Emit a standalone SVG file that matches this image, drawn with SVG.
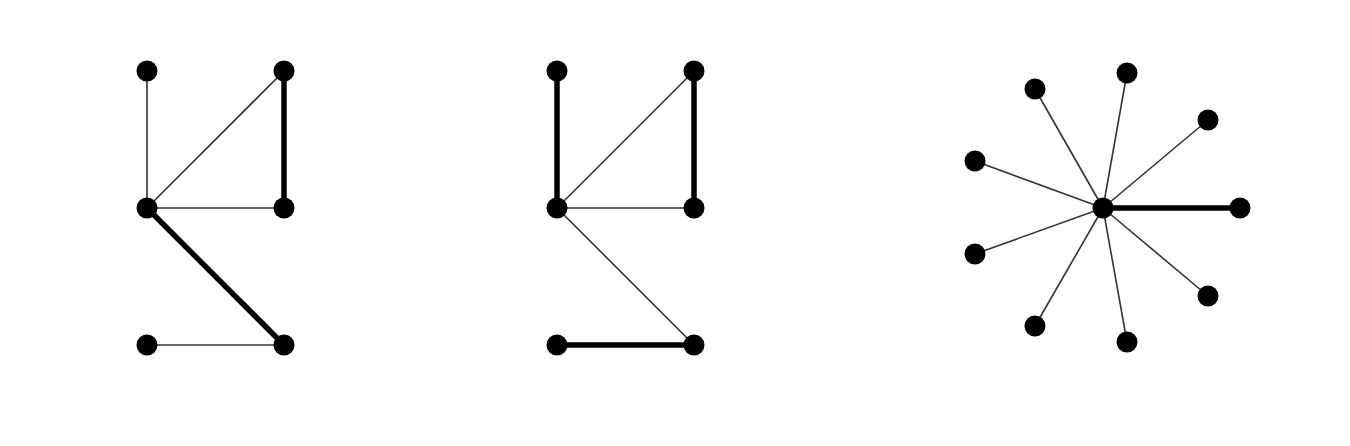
<svg xmlns="http://www.w3.org/2000/svg" width="1350" height="446" viewBox="0 0 1350 446">
<style>
.e{stroke:#333;stroke-width:1.6;fill:none}
.t{stroke:#000;stroke-width:5.5;fill:none}
.n{fill:#000}
</style>
<rect width="1350" height="446" fill="#fff"/>
<g id="connectors">
<line class="e" x1="147" y1="71" x2="147" y2="208"/>
<line class="e" x1="147" y1="208" x2="284" y2="71"/>
<line class="t" x1="284" y1="71" x2="284" y2="208"/>
<line class="e" x1="147" y1="208" x2="284" y2="208"/>
<line class="t" x1="147" y1="208" x2="284" y2="345"/>
<line class="e" x1="147" y1="345" x2="284" y2="345"/>
<line class="t" x1="557" y1="71" x2="557" y2="208"/>
<line class="e" x1="557" y1="208" x2="694" y2="71"/>
<line class="t" x1="694" y1="71" x2="694" y2="208"/>
<line class="e" x1="557" y1="208" x2="694" y2="208"/>
<line class="e" x1="557" y1="208" x2="694" y2="345"/>
<line class="t" x1="557" y1="345" x2="694" y2="345"/>
<line class="e" x1="1103" y1="208" x2="1127" y2="73"/>
<line class="e" x1="1103" y1="208" x2="1208" y2="120"/>
<line class="t" x1="1103" y1="208" x2="1240" y2="208"/>
<line class="e" x1="1103" y1="208" x2="1208" y2="296"/>
<line class="e" x1="1103" y1="208" x2="1127" y2="342"/>
<line class="e" x1="1103" y1="208" x2="1035" y2="326"/>
<line class="e" x1="1103" y1="208" x2="975" y2="254"/>
<line class="e" x1="1103" y1="208" x2="975" y2="161"/>
<line class="e" x1="1103" y1="208" x2="1035" y2="89"/>
</g>
<g id="g1n1"><circle class="n" cx="147" cy="71" r="10.5"/></g>
<g id="g1n2"><circle class="n" cx="284" cy="71" r="10.5"/></g>
<g id="g1n3"><circle class="n" cx="147" cy="208" r="10.5"/></g>
<g id="g1n4"><circle class="n" cx="284" cy="208" r="10.5"/></g>
<g id="g1n5"><circle class="n" cx="147" cy="345" r="10.5"/></g>
<g id="g1n6"><circle class="n" cx="284" cy="345" r="10.5"/></g>
<g id="g2n1"><circle class="n" cx="557" cy="71" r="10.5"/></g>
<g id="g2n2"><circle class="n" cx="694" cy="71" r="10.5"/></g>
<g id="g2n3"><circle class="n" cx="557" cy="208" r="10.5"/></g>
<g id="g2n4"><circle class="n" cx="694" cy="208" r="10.5"/></g>
<g id="g2n5"><circle class="n" cx="557" cy="345" r="10.5"/></g>
<g id="g2n6"><circle class="n" cx="694" cy="345" r="10.5"/></g>
<g id="g3c"><circle class="n" cx="1103" cy="208" r="10.5"/></g>
<g id="g3l1"><circle class="n" cx="1127" cy="73" r="10.5"/></g>
<g id="g3l2"><circle class="n" cx="1208" cy="120" r="10.5"/></g>
<g id="g3l3"><circle class="n" cx="1240" cy="208" r="10.5"/></g>
<g id="g3l4"><circle class="n" cx="1208" cy="296" r="10.5"/></g>
<g id="g3l5"><circle class="n" cx="1127" cy="342" r="10.5"/></g>
<g id="g3l6"><circle class="n" cx="1035" cy="326" r="10.5"/></g>
<g id="g3l7"><circle class="n" cx="975" cy="254" r="10.5"/></g>
<g id="g3l8"><circle class="n" cx="975" cy="161" r="10.5"/></g>
<g id="g3l9"><circle class="n" cx="1035" cy="89" r="10.5"/></g>
</svg>
